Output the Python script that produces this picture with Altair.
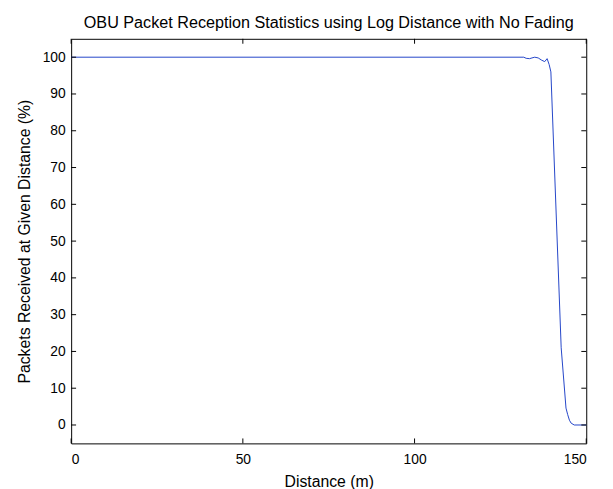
import altair as alt
import pandas as pd

distance = [0, 131.8, 132.5, 133.5, 134.2, 135.0, 136.0, 137.0, 137.9, 138.6,
            139.2, 139.7, 142.7, 144.1, 144.6, 145.1, 145.6, 146.5, 150]
received = [100, 100, 99.7, 99.6, 99.8, 100, 99.8, 99.2, 98.8, 99.6,
            98.0, 96.0, 21.0, 4.6, 2.8, 1.3, 0.5, 0, 0]
x_ticks = [0, 50, 100, 150]
y_ticks = [0, 10, 20, 30, 40, 50, 60, 70, 80, 90, 100]

W, H, TL = 522, 410, 5
df = pd.DataFrame({"d": distance, "p": received})
xt = pd.DataFrame({"v": x_ticks})
yt = pd.DataFrame({"v": y_ticks})
FONT = "Liberation Sans"

xs = alt.Scale(domain=[0, 150], nice=False, zero=False)
ys = alt.Scale(domain=[-5, 105], nice=False, zero=False)

main = alt.Chart(df).mark_line(color="#2344c8", strokeWidth=1).encode(
    x=alt.X("d:Q", scale=xs, title="Distance (m)",
            axis=alt.Axis(values=x_ticks, ticks=False, tickSize=0, domain=False,
                          grid=False, labelPadding=9, titlePadding=8)),
    y=alt.Y("p:Q", scale=ys, title="Packets Received at Given Distance (%)",
            axis=alt.Axis(values=y_ticks, ticks=False, tickSize=0, domain=False,
                          grid=False, labelPadding=6, titlePadding=10)),
)

tick_color = "black"
left_ticks = alt.Chart(yt).mark_rule(color=tick_color, strokeWidth=1).encode(
    y=alt.Y("v:Q", scale=ys), x=alt.value(0), x2=alt.value(TL))
right_ticks = alt.Chart(yt).mark_rule(color=tick_color, strokeWidth=1).encode(
    y=alt.Y("v:Q", scale=ys), x=alt.value(W - TL), x2=alt.value(W))
bottom_ticks = alt.Chart(xt).mark_rule(color=tick_color, strokeWidth=1).encode(
    x=alt.X("v:Q", scale=xs), y=alt.value(H), y2=alt.value(H - TL))
top_ticks = alt.Chart(xt).mark_rule(color=tick_color, strokeWidth=1).encode(
    x=alt.X("v:Q", scale=xs), y=alt.value(0), y2=alt.value(TL))

chart = alt.layer(main, left_ticks, right_ticks, bottom_ticks, top_ticks).properties(
    width=W, height=H,
    autosize=alt.AutoSizeParams(type="none"),
    padding={"left": 64, "top": 28, "right": 19, "bottom": 43},
    title=alt.Title("OBU Packet Reception Statistics using Log Distance with No Fading",
                    fontSize=16.4, fontWeight="normal", font=FONT, offset=7,
                    anchor="middle", color="black"),
).configure_view(stroke="black", strokeWidth=1).configure_axis(
    labelFont=FONT, titleFont=FONT, labelFontSize=14, titleFontSize=16,
    labelColor="black", titleColor="black", titleFontWeight="normal",
)

chart.save("out.html", embed_options={"renderer": "svg", "actions": False})
